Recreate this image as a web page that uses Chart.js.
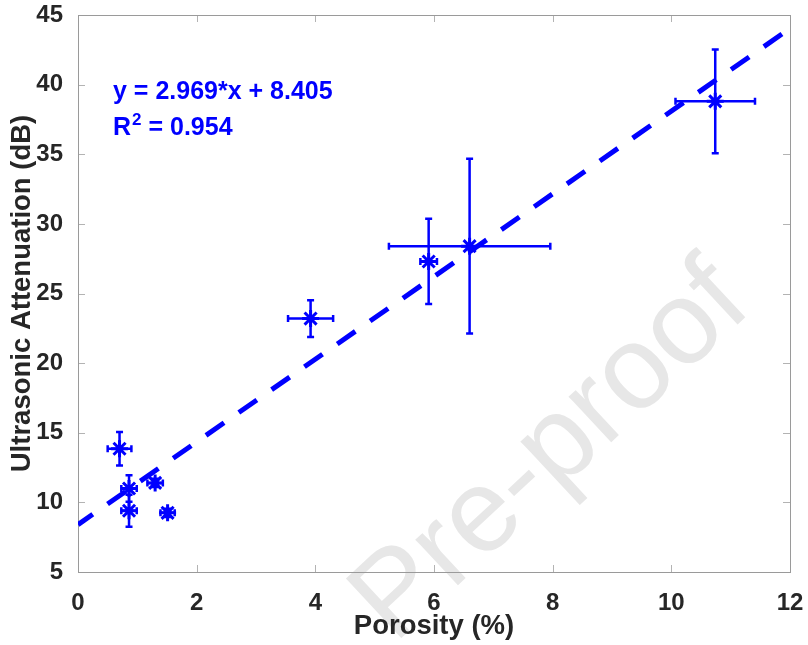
<!DOCTYPE html>
<html>
<head>
<meta charset="utf-8">
<script src="https://cdn.jsdelivr.net/npm/chart.js@4/dist/chart.umd.min.js"></script>
<style>
  html, body { margin: 0; padding: 0; background: #fff; }
  canvas { display: block; }
</style>
</head>
<body>
<canvas id="attn" width="808" height="645"></canvas>
<script>
// Measured samples: porosity (%) against ultrasonic attenuation (dB)
const porosity = [0.70, 0.86, 0.86, 1.30, 1.51, 3.92, 5.91, 6.60, 10.74];
const attenuation = [13.85, 11.0, 9.4, 11.4, 9.25, 23.2, 27.3, 28.4, 38.8];
// Half-widths of the error bars
const porosityErr = [0.20, 0.13, 0.13, 0.13, 0.12, 0.38, 0.14, 1.36, 0.67];
const attenuationErr = [1.2, 0.95, 1.15, 0.3, 0.3, 1.32, 3.06, 6.28, 3.73];

// Linear fit reported on the plot
const fitSlope = 2.969;
const fitIntercept = 8.405;
const fitR2 = 0.954;
const fitX = [0, 12];

// Axis ticks
const xTicks = [0, 2, 4, 6, 8, 10, 12];
const yTicks = [5, 10, 15, 20, 25, 30, 35, 40, 45];

const BLUE = "#0000ff";
const TEXT = "#262626";
const FONT = "'Liberation Sans', Arial, Helvetica, sans-serif";

const points = porosity.map((x, i) => ({ x: x, y: attenuation[i] }));
const fitPoints = fitX.map((x) => ({ x: x, y: fitSlope * x + fitIntercept }));

// Light diagonal "Pre-proof" stamp behind everything
const stamp = {
  id: "stamp",
  beforeDraw(chart) {
    const { ctx } = chart;
    ctx.save();
    ctx.translate(552, 453);
    ctx.rotate((-43 * Math.PI) / 180);
    ctx.font = "118px " + FONT;
    ctx.fillStyle = "#e7e7e7";
    ctx.textAlign = "center";
    ctx.textBaseline = "middle";
    ctx.fillText("Pre-proof", 0, 0);
    ctx.restore();
  },
};

// Box around the axes with inward tick marks on all four sides
const axesBox = {
  id: "axesBox",
  beforeDatasetsDraw(chart) {
    const { ctx, chartArea: a, scales } = chart;
    const len = 7;
    ctx.save();
    ctx.lineWidth = 1;
    ctx.strokeStyle = "#b3b3b3";
    ctx.beginPath();
    xTicks.forEach((v) => {
      const px = Math.round(scales.x.getPixelForValue(v)) + 0.5;
      ctx.moveTo(px, a.bottom);
      ctx.lineTo(px, a.bottom - len);
      ctx.moveTo(px, a.top);
      ctx.lineTo(px, a.top + len);
    });
    yTicks.forEach((v) => {
      const py = Math.round(scales.y.getPixelForValue(v)) + 0.5;
      ctx.moveTo(a.left, py);
      ctx.lineTo(a.left + len, py);
      ctx.moveTo(a.right, py);
      ctx.lineTo(a.right - len, py);
    });
    ctx.stroke();
    ctx.strokeStyle = "#9a9a9a";
    ctx.strokeRect(
      Math.round(a.left) + 0.5,
      Math.round(a.top) + 0.5,
      Math.round(a.right - a.left),
      Math.round(a.bottom - a.top)
    );
    ctx.restore();
  },
};

// Horizontal and vertical error bars with small end caps
const errorBars = {
  id: "errorBars",
  afterDatasetsDraw(chart) {
    const { ctx, scales } = chart;
    const cap = 3.5;
    ctx.save();
    ctx.strokeStyle = BLUE;
    ctx.lineWidth = 2.5;
    ctx.lineCap = "butt";
    porosity.forEach((x, i) => {
      const y = attenuation[i];
      const px = scales.x.getPixelForValue(x);
      const py = scales.y.getPixelForValue(y);
      const yTop = scales.y.getPixelForValue(y + attenuationErr[i]);
      const yBot = scales.y.getPixelForValue(y - attenuationErr[i]);
      const xLo = scales.x.getPixelForValue(x - porosityErr[i]);
      const xHi = scales.x.getPixelForValue(x + porosityErr[i]);
      ctx.beginPath();
      ctx.moveTo(px, yTop);
      ctx.lineTo(px, yBot);
      ctx.moveTo(px - cap, yTop);
      ctx.lineTo(px + cap, yTop);
      ctx.moveTo(px - cap, yBot);
      ctx.lineTo(px + cap, yBot);
      ctx.moveTo(xLo, py);
      ctx.lineTo(xHi, py);
      ctx.moveTo(xLo, py - cap);
      ctx.lineTo(xLo, py + cap);
      ctx.moveTo(xHi, py - cap);
      ctx.lineTo(xHi, py + cap);
      ctx.stroke();
    });
    ctx.restore();
  },
};

// Fit equation and R^2, placed in data coordinates
const fitLabel = {
  id: "fitLabel",
  afterDraw(chart) {
    const { ctx, scales } = chart;
    const x0 = scales.x.getPixelForValue(0.59);
    const y1 = scales.y.getPixelForValue(38.94);
    const y2 = scales.y.getPixelForValue(36.37);
    ctx.save();
    ctx.fillStyle = BLUE;
    ctx.textBaseline = "alphabetic";
    ctx.textAlign = "left";
    ctx.font = "bold 25px " + FONT;
    ctx.fillText("y = " + fitSlope.toFixed(3) + "*x + " + fitIntercept.toFixed(3), x0, y1);
    ctx.fillText("R", x0, y2);
    let w = ctx.measureText("R").width + 1;
    ctx.font = "bold 17px " + FONT;
    ctx.fillText("2", x0 + w, y2 - 10);
    w += ctx.measureText("2").width;
    ctx.font = "bold 25px " + FONT;
    ctx.fillText(" = " + fitR2.toFixed(3), x0 + w, y2);
    ctx.restore();
  },
};

// Drop the label overhang padding so the plot box keeps its fixed place
function clearPadding(scale) {
  scale.paddingTop = 0;
  scale.paddingBottom = 0;
  scale.paddingLeft = 0;
  scale.paddingRight = 0;
}

const config = {
  type: "scatter",
  data: {
    datasets: [
      {
        label: "Samples",
        data: points,
        pointStyle: "star",
        pointRadius: 8.5,
        pointBorderWidth: 3,
        borderColor: BLUE,
        backgroundColor: BLUE,
        showLine: false,
        order: 1,
      },
      {
        label: "Linear fit",
        type: "line",
        data: fitPoints,
        borderColor: BLUE,
        borderWidth: 5,
        borderDash: [22, 18],
        borderDashOffset: 4,
        pointRadius: 0,
        fill: false,
        order: 2,
      },
    ],
  },
  options: {
    responsive: false,
    animation: false,
    layout: { padding: { top: 15, right: 18, left: 0, bottom: 0 } },
    plugins: {
      legend: { display: false },
      tooltip: { enabled: false },
    },
    scales: {
      x: {
        type: "linear",
        min: 0,
        max: 12,
        afterBuildTicks: (scale) => {
          scale.ticks = xTicks.map((v) => ({ value: v }));
        },
        afterFit: (scale) => {
          scale.height = 73;
          clearPadding(scale);
        },
        grid: { display: false },
        border: { display: false },
        ticks: {
          color: TEXT,
          padding: 9,
          font: { family: FONT, size: 24, weight: "bold" },
        },
        title: {
          display: true,
          text: "Porosity (%)",
          color: TEXT,
          padding: { top: 0, bottom: 2 },
          font: { family: FONT, size: 27.5, weight: "bold" },
        },
      },
      y: {
        type: "linear",
        min: 5,
        max: 45,
        afterBuildTicks: (scale) => {
          scale.ticks = yTicks.map((v) => ({ value: v }));
        },
        afterFit: (scale) => {
          scale.width = 78;
          clearPadding(scale);
        },
        grid: { display: false },
        border: { display: false },
        ticks: {
          color: TEXT,
          padding: 7,
          font: { family: FONT, size: 24, weight: "bold" },
        },
        title: {
          display: true,
          text: "Ultrasonic Attenuation (dB)",
          color: TEXT,
          padding: { top: 6, bottom: 0 },
          font: { family: FONT, size: 27.5, weight: "bold" },
        },
      },
    },
  },
  plugins: [stamp, axesBox, errorBars, fitLabel],
};

new Chart(document.getElementById("attn").getContext("2d"), config);
</script>
</body>
</html>
